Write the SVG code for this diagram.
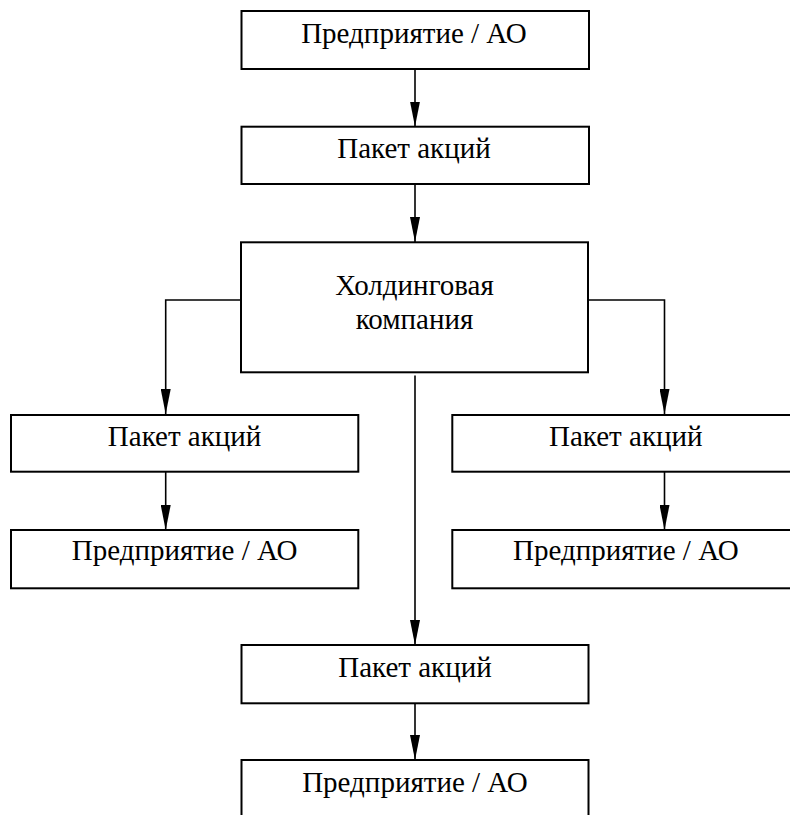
<svg xmlns="http://www.w3.org/2000/svg" width="790" height="815" viewBox="0 0 790 815">
<style>
.box{fill:#fff;stroke:#000;stroke-width:2}
.lbl{font-family:'Liberation Serif','Times New Roman',serif;font-size:29px;fill:#000;text-anchor:middle}
.con{fill:none;stroke:#000;stroke-width:1.6}
</style>
<defs>
<marker id="arr" viewBox="0 0 25 10" refX="25" refY="5" markerWidth="25" markerHeight="10" markerUnits="userSpaceOnUse" orient="auto">
<path d="M0,0 L25,5 L0,10 Z" fill="#000"/>
</marker>
</defs>
<rect width="790" height="815" fill="#fff"/>
<g id="connectors">
<path class="con" d="M415,69 V126.5" marker-end="url(#arr)"/>
<path class="con" d="M415,184 V242" marker-end="url(#arr)"/>
<path class="con" d="M241,300 H165.7 V414" marker-end="url(#arr)"/>
<path class="con" d="M588,300 H664.5 V414" marker-end="url(#arr)"/>
<path class="con" d="M415,375.5 V645" marker-end="url(#arr)"/>
<path class="con" d="M165.7,471.7 V530" marker-end="url(#arr)"/>
<path class="con" d="M664.5,471.7 V530" marker-end="url(#arr)"/>
<path class="con" d="M415,703.3 V760" marker-end="url(#arr)"/>
</g>
<g id="n1"><rect class="box" x="241.5" y="11" width="347.5" height="58"/><text class="lbl" x="414" y="43">Предприятие / АО</text></g>
<g id="n2"><rect class="box" x="241.5" y="126.7" width="347.5" height="57.3"/><text class="lbl" x="414" y="158">Пакет акций</text></g>
<g id="n3"><rect class="box" x="241" y="242.3" width="347" height="130"/><text class="lbl" x="414.5" y="295">Холдинговая</text><text class="lbl" x="414.5" y="329.3">компания</text></g>
<g id="n4"><rect class="box" x="11" y="415" width="347.3" height="56.7"/><text class="lbl" x="184.6" y="445.7">Пакет акций</text></g>
<g id="n5"><rect class="box" x="11" y="530" width="347.3" height="58.3"/><text class="lbl" x="184.6" y="560">Предприятие / АО</text></g>
<g id="n6"><rect class="box" x="452.3" y="415" width="347" height="56.7"/><text class="lbl" x="625.8" y="445.7">Пакет акций</text></g>
<g id="n7"><rect class="box" x="452.3" y="530" width="347" height="58.3"/><text class="lbl" x="625.8" y="560">Предприятие / АО</text></g>
<g id="n8"><rect class="box" x="241.5" y="645" width="347" height="58.3"/><text class="lbl" x="415" y="676.7">Пакет акций</text></g>
<g id="n9"><rect class="box" x="241.5" y="760" width="347" height="70"/><text class="lbl" x="415" y="791.7">Предприятие / АО</text></g>
</svg>
